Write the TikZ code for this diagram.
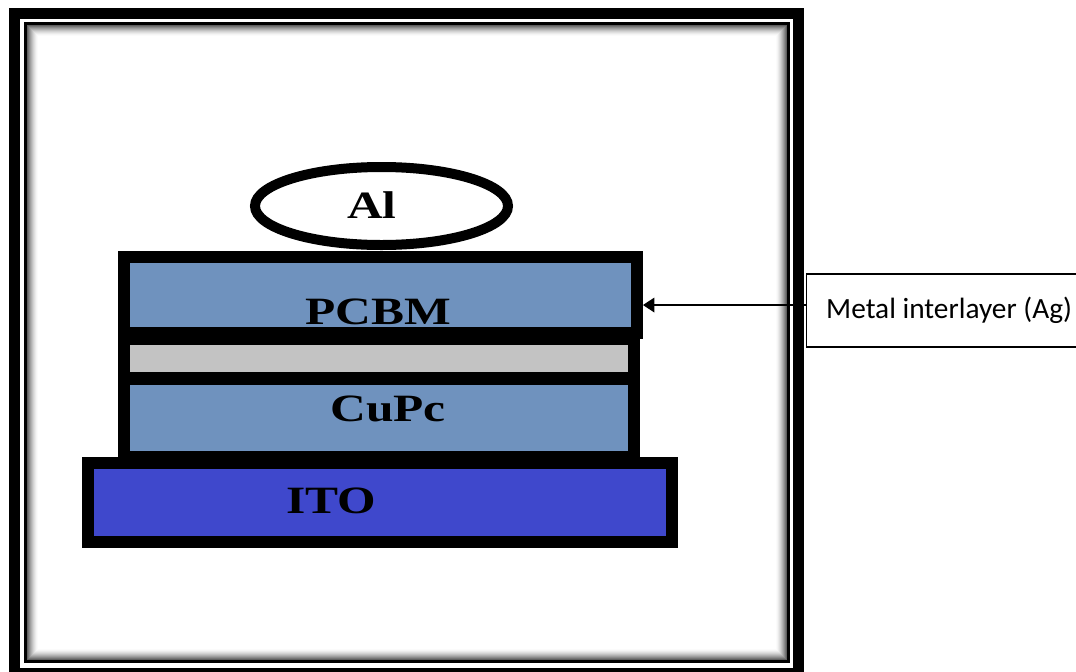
\documentclass[tikz,border=0pt]{standalone}
\usepackage{fontspec}
\usetikzlibrary{arrows.meta,shapes.geometric}
\newfontfamily\layerfont{Liberation Serif}
\newfontfamily\calloutfont{Carlito}
\definecolor{orgblue}{RGB}{111,146,190}
\definecolor{agray}{RGB}{195,195,195}
\definecolor{itoblue}{RGB}{63,72,204}
\tikzset{
  layer/.style={rectangle, draw=black, line width=9pt, inner sep=0pt},
  layertext/.style={anchor=base, xscale=1.28, inner sep=0pt,
    font=\layerfont\bfseries\fontsize{29}{30}\selectfont},
  callout/.style={rectangle, draw=black, line width=0.9pt, inner sep=0pt,
    font=\calloutfont\fontsize{22}{24}\selectfont},
  pointer/.style={line width=1pt, -{Triangle[length=8.5pt,width=11pt]}}
}
\begin{document}
\begin{tikzpicture}[x=0.75pt,y=-0.75pt]
  \useasboundingbox (0,0) rectangle (1076,672);
  \fill[white] (0,0) rectangle (1076,672);

  % double frame with a soft inner shadow
  \draw[line width=8.25pt] (14.5,13.5) rectangle (798.5,673.5);
  \draw[line width=2.25pt] (25.5,23.5) rectangle (788.5,661.5);
  \foreach \i in {1,...,12} {
    \pgfmathsetmacro\shade{72*(1-\i/12)^1.6}
    \draw[line width=0.8pt, black!\shade]
      ({27+\i-0.5},{25+\i-0.5}) rectangle ({787-\i+0.5},{660-\i+0.5});
  }

  % device stack
  \node[layer, fill=itoblue, minimum width=438pt, minimum height=59.25pt]
    (ito) at (380,502.5) {};
  \node[layer, fill=orgblue, minimum width=382.5pt, minimum height=58.5pt]
    (cupc) at (379,418) {};
  \node[layer, fill=agray, minimum width=382.5pt, minimum height=29.25pt]
    (ag) at (379,358.5) {};
  \node[layer, fill=orgblue, minimum width=384.75pt, minimum height=57pt]
    (pcbm) at (380.5,295) {};
  \node[ellipse, draw=black, line width=7.5pt, inner sep=0pt,
    minimum width=189.75pt, minimum height=58.5pt] (al) at (381.5,206) {};

  % layer names
  \node[layertext] (altext)   at (372,218) {Al};
  \node[layertext] (pcbmtext) at (378,324) {PCBM};
  \node[layertext] (cupctext) at (388,421) {CuPc};
  \node[layertext] (itotext)  at (331,513) {ITO};

  % callout for the interlayer
  \node[callout, minimum width=213.75pt, minimum height=54.75pt, anchor=west]
    (lbl) at (806,310.5) {Metal interlayer (Ag)};
  \coordinate (tail) at ([yshift=4.1pt]lbl.west);
  \draw[pointer] (tail) -- (tail -| pcbm.east);
\end{tikzpicture}
\end{document}
